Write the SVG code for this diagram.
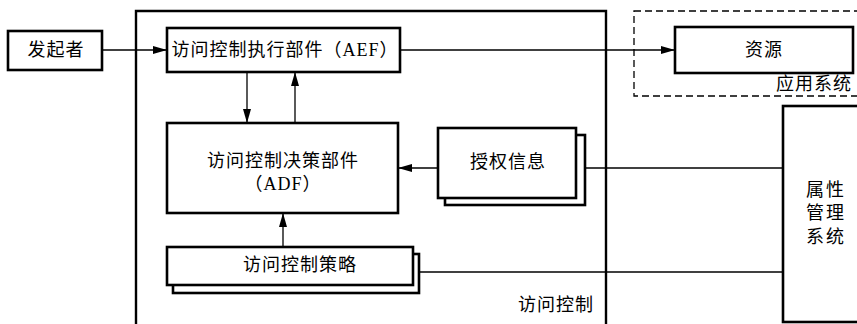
<svg xmlns="http://www.w3.org/2000/svg" width="857" height="324" viewBox="0 0 857 324">
<style>
.box{fill:#fff;stroke:#000;stroke-width:2.6}
.frame{fill:none;stroke:#000;stroke-width:2.4}
.dash{fill:none;stroke:#000;stroke-width:1.3;stroke-dasharray:7 4}
.ln{fill:none;stroke:#000;stroke-width:1.3}
text{font-family:"Liberation Serif","Noto Sans CJK SC",serif;font-size:18px;letter-spacing:1px;fill:#000;text-anchor:middle;dominant-baseline:central}
</style>
<defs>
<marker id="ah" markerWidth="14" markerHeight="10" refX="14" refY="5" orient="auto" markerUnits="userSpaceOnUse">
<path d="M0,1 L14,5 L0,9 Z" fill="#000"/>
</marker>
</defs>
<rect width="857" height="324" fill="#fff"/>
<g id="access-control-frame">
<path class="frame" d="M136,326 V11 H606 V326"/>
<text x="556" y="305">访问控制</text>
</g>
<g id="app-system">
<rect class="dash" x="634" y="11" width="240" height="85"/>
<text x="814" y="84">应用系统</text>
</g>
<g id="connectors">
<line class="ln" x1="102" y1="50" x2="167" y2="50" marker-end="url(#ah)"/>
<line class="ln" x1="400" y1="50" x2="675" y2="50" marker-end="url(#ah)"/>
<line class="ln" x1="247" y1="72" x2="247" y2="123" marker-end="url(#ah)"/>
<line class="ln" x1="295" y1="123" x2="295" y2="72" marker-end="url(#ah)"/>
<line class="ln" x1="438" y1="168" x2="398" y2="168" marker-end="url(#ah)"/>
<line class="ln" x1="283" y1="247" x2="283" y2="213" marker-end="url(#ah)"/>
<line class="ln" x1="585" y1="168" x2="783" y2="168"/>
<line class="ln" x1="419" y1="272" x2="783" y2="272"/>
</g>
<g id="initiator">
<rect class="box" x="8" y="31" width="94" height="39"/>
<text x="56" y="50">发起者</text>
</g>
<g id="aef">
<rect class="box" x="167" y="28" width="233" height="44"/>
<text x="285" y="50">访问控制执行部件（AEF）</text>
</g>
<g id="resource">
<rect class="box" x="675" y="27" width="178" height="46"/>
<text x="764" y="50">资源</text>
</g>
<g id="adf">
<rect class="box" x="167" y="123" width="231" height="90"/>
<text x="283" y="161">访问控制决策部件</text>
<text x="283" y="184">（ADF）</text>
</g>
<g id="auth-info">
<rect class="box" x="445" y="135" width="140" height="70"/>
<rect class="box" x="438" y="128" width="138" height="70"/>
<text x="508" y="162">授权信息</text>
</g>
<g id="policy">
<rect class="box" x="173" y="254" width="246" height="39"/>
<rect class="box" x="167" y="247" width="246" height="38"/>
<text x="300" y="265">访问控制策略</text>
</g>
<g id="attr-mgmt">
<rect class="box" x="783" y="106" width="90" height="216"/>
<text x="826" y="190" style="letter-spacing:2px">属性</text>
<text x="826" y="213" style="letter-spacing:2px">管理</text>
<text x="826" y="237" style="letter-spacing:2px">系统</text>
</g>
</svg>
